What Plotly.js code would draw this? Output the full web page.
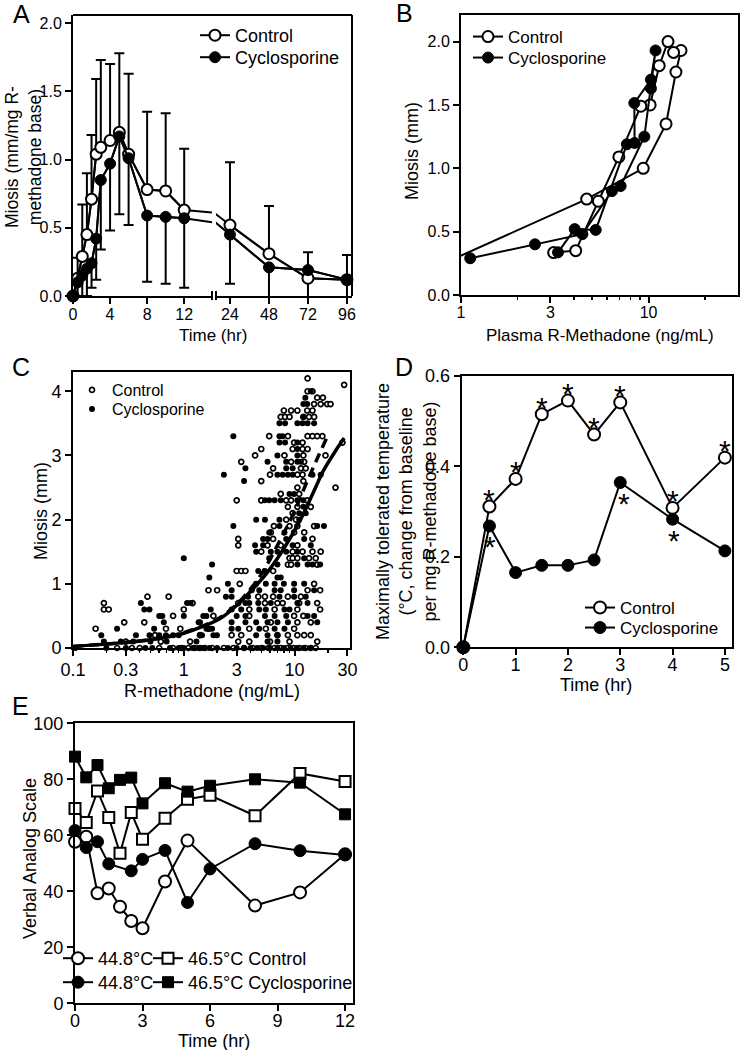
<!DOCTYPE html>
<html><head><meta charset="utf-8">
<script src="https://cdn.plot.ly/plotly-3.0.1.min.js"></script>
<style>html,body{margin:0;padding:0;background:#fff}#chart{width:741px;height:1050px}</style>
</head><body><div id="chart"></div>
<script>
// ---------- Panel A : miosis vs time ----------
const timeA = [0,0.5,1,1.5,2,2.5,3,4,5,6,8,10,12,24,48,72,96];
const ctrlA = [0,0.13,0.29,0.45,0.71,1.04,1.09,1.14,1.20,1.04,0.78,0.77,0.63,0.52,0.31,0.13,0.12];
const ctrlAErr = [0,0.15,0.38,0.45,0.47,0.55,0.64,0.56,0.58,0.59,0.57,0.57,0.45,0.46,0.35,0.19,0.18];
const cycA = [0,0.10,0.15,0.20,0.24,0.42,0.85,0.97,1.17,1.01,0.59,0.58,0.57,0.45,0.21,0.19,0.12];
const cycAErr = [0,0.10,0.15,0.20,0.18,0.30,0.51,0.49,0.57,0.49,0.485,0.49,0.51,0.36,0.30,0.25,0.20];
const ticksA1 = [0,4,8,12];
const ticksA2 = [24,48,72,96];

// ---------- Panel B : miosis vs plasma R-methadone (hysteresis) ----------
const ctrlBX = [0.9,4.68,9.37,12.4,14.0,14.9,13.6,12.7,11.4,10.2,9.1,6.95,5.4,4.09,3.12];
const ctrlBY = [0.28,0.757,1.0,1.35,1.76,1.93,1.915,2.0,1.81,1.5,1.49,1.09,0.74,0.35,0.335];
const cycBX = [1.12,2.48,4.44,6.38,7.1,9.5,10.3,10.9,10.3,8.4,8.43,7.67,5.23,4.04,3.29];
const cycBY = [0.29,0.40,0.48,0.82,0.86,1.25,1.63,1.93,1.70,1.515,1.2,1.19,0.514,0.52,0.337];

// ---------- Panel C : individual miosis vs R-methadone ----------
const ctrlC = [
[0.16,0.3],[0.19,0.7],[0.19,0.6],[0.21,0.6],[0.29,0.4],[0.44,0.4],[0.47,0.8],[0.73,0.8],[0.80,0.5],[0.93,0.3],[0.69,0.3],[1.0,0.6],[1.2,0.7],[1.14,0.1],[1.67,0.9],[0.55,0.2],
[0.34,0],[0.40,0],[0.60,0],[0.80,0],[0.95,0],[1.1,0],[1.25,0],[1.4,0],[1.55,0],[1.8,0],[0.25,0],[2.3,0],[2.8,0],[0.62,0.1],[0.30,0.1],
[3.5,0],[4.2,0],[5.0,0],[5.8,0],[6.6,0],[7.5,0],[8.6,0],[9.8,0],[11,0],[12.5,0],[14,0],[15.5,0],
[3.1,0.1],[3.9,0.1],[6,0.1],[9,0.1],[16,0.1],
[2.7,0.2],[3.3,0.2],[7.0,0.2],[8.7,0.2],[10.6,0.2],[12.2,0.2],[14.0,0.2],[1.4,0.2],
[1.67,0.3],[3.9,0.3],[9.9,0.3],[5.5,0.3],
[6.1,0.4],[10.6,0.4],[14,0.4],
[1.85,0.5],[3.9,0.5],[9.9,0.5],[12,0.5],
[3.9,0.6],[6.6,0.6],[10.6,0.6],[17,0.6],
[3.1,0.7],[5.4,0.7],[7.0,0.7],[7.8,0.7],[16,0.7],[11,0.7],
[4.7,0.8],[5.4,0.8],[6.4,0.8],[8.7,0.8],[11.4,0.8],
[13.1,0.9],[2.0,0.9],[17,0.9],
[3.2,1.0],[15,1.0],
[3.0,1.2],[3.3,1.2],[3.6,1.2],[6.4,1.2],
[8.7,1.3],[9.3,1.3],[16,1.3],
[9.0,1.4],[9.6,1.4],[10.6,1.4],[13.5,1.4],[15.5,1.4],
[5.0,1.5],[9.6,1.5],[11.8,1.5],[14.5,1.5],[17.2,1.5],
[3.1,1.6],[5.7,1.6],[7.5,1.6],[10.6,1.6],
[3.1,1.7],[6.4,1.7],[14.5,1.7],
[6.1,1.8],[9.9,1.8],[12.2,1.8],
[6.5,1.9],[9.0,1.9],[10.6,1.9],[15,1.9],
[8.4,2.0],[10.3,2.0],
[9.6,2.1],
[8.7,2.2],[10.6,2.2],[14,2.2],
[3.0,2.3],[5.0,2.3],[8.4,2.3],[9.3,2.3],[13,2.3],
[7.5,2.4],[11.0,2.4],
[10.6,2.5],[23.4,2.5],
[5.0,2.6],[12,2.6],
[10.6,2.7],[11.8,2.7],[6.0,2.7],
[6.4,2.8],[11.4,2.8],[12.6,2.8],
[3.3,2.9],[9.3,2.9],[12.2,2.9],
[4.4,3.0],[8.1,3.0],[12.0,3.0],[19,3.0],
[5.0,3.1],[9.6,3.1],[11.8,3.1],[13.1,3.1],
[9.9,3.2],[11.8,3.2],[27,3.2],
[5.9,3.3],[8.7,3.3],[13.1,3.3],[14.5,3.3],[16,3.3],[17.8,3.3],
[7.5,3.6],[8.2,3.6],[9.0,3.6],[12,3.6],[13.5,3.6],[15,3.6],
[8.0,3.7],[9.3,3.7],[10.6,3.7],[13,3.7],[14.5,3.7],
[15,3.8],[17.2,3.8],[19.7,3.8],[21.1,3.8],
[16,3.9],[18,3.9],
[13.1,4.0],[14.5,4.0],
[13.1,4.2],[28,4.1]
];
const cycC = [
[0.18,0.2],[0.19,0.1],[0.25,0.3],[0.27,0.1],[0.37,0.2],[0.41,0.7],[0.44,0.6],[0.49,0.6],[0.49,0.2],[0.54,0.3],[0.60,0.5],[0.64,0.5],[0.66,0.4],[0.60,0.2],[0.69,0.2],[1.0,0.5],[1.0,1.4],[1.07,0.7],[1.15,0.7],[1.46,0.2],[1.5,0.5],[1.6,0.5],[1.7,1.1],[1.75,0.6],[1.99,0.2],[1.6,0.3],
[0.105,0],[0.2,0],[0.3,0],[0.45,0],[0.52,0],[0.75,0],[0.9,0],[1.0,0],[1.2,0],[1.35,0],[1.5,0],[1.7,0],[2.0,0],[2.5,0],[0.35,0.1],[0.5,0.1],[0.7,0.1],[0.8,0.2],[0.9,0.2],[1.3,0.1],
[1.8,1.3],[2.3,2.7],[2.8,3.3],[2.8,1.9],[3.6,2.8],[3.5,2.6],[2.7,0.9],[2.4,0.8],[1.4,0.4],[1.7,0.3],[1.85,0.2],
[4.5,2.0],[5.4,2.0],[7.3,2.0],[11.0,2.0],
[7.3,1.9],[16,1.9],[18.4,1.9],
[5.9,1.8],[8.1,1.8],
[5.2,1.7],[5.7,1.7],[8.4,1.7],[12.2,1.7],
[4.4,1.6],[5.2,1.6],[9.6,1.6],[14,1.6],
[4.5,1.5],[6.1,1.5],[7.0,1.5],[8.4,1.5],[10.6,1.5],
[5.9,1.4],[12.2,1.4],
[7.0,1.3],[10.6,1.3],[13.1,1.3],[14.5,1.3],[17,1.3],
[4.7,1.2],[5.4,1.2],
[7.0,1.1],[7.5,1.1],[2.5,1.0],
[4.5,1.0],[5.5,1.0],[6.6,1.0],[8.0,1.0],[9.9,1.0],[12.2,1.0],
[4.1,0.9],[4.8,0.9],[6.6,0.9],[7.5,0.9],[9.9,0.9],[15,0.9],
[2.7,0.8],[3.8,0.8],[7.3,0.8],[9.9,0.8],[12.6,0.8],
[3.6,0.7],[3.9,0.7],[4.7,0.7],[6.1,0.7],[10.6,0.7],[13.1,0.7],
[2.7,0.6],[3.3,0.6],[4.8,0.6],[5.5,0.6],[8.1,0.6],[9.0,0.6],
[3.0,0.5],[3.6,0.5],[5.4,0.5],[6.6,0.5],[8.4,0.5],[13.1,0.5],[15,0.5],
[1.36,0.4],[2.7,0.4],[3.6,0.4],[4.5,0.4],[5.7,0.4],[7.0,0.4],[8.7,0.4],[16,0.4],
[1.8,0.3],[2.7,0.3],[3.1,0.3],[4.8,0.3],[6.6,0.3],[8.1,0.3],
[1.4,0.2],[4.5,0.2],[5.7,0.2],[7.0,0.2],
[5.7,0.1],[7.0,0.1],
[7.3,3.5],[8.2,3.5],[10.6,3.5],[11.8,3.5],[13.1,3.5],[15,3.5],
[7.3,3.3],[7.8,3.3],[12,3.6],
[7.3,3.2],[8.2,3.2],[10.6,3.2],
[10.6,3.1],
[7.0,3.0],[10.6,3.0],
[5.7,2.9],[8.4,2.9],[10.6,2.9],[11.4,2.9],
[8.4,2.8],[9.6,2.8],
[7.0,2.7],[7.8,2.7],[8.7,2.7],[9.6,2.7],[14.5,2.7],[17.2,2.7],
[9.0,2.4],[9.9,2.4],
[5.4,2.3],[5.9,2.3],[6.6,2.3],[7.5,2.3],[10.6,2.3],[12,2.3],
[12,2.2],
[11,2.1],[12.6,2.1],
[12,3.8],[13,3.8],[14,4.0],[12.5,3.9],
[3.0,0],[3.5,0],[4.0,0],[4.6,0],[5.2,0],[6.0,0],[7.0,0],[8.0,0],[9.2,0],[10.5,0],[12,0],[13.8,0]
];
const fitSolidX = [0.1,0.27,0.5,0.75,1.0,1.41,2.13,2.81,4,5.63,8,11.3,15,18.3,23,28];
const fitSolidY = [0.025,0.08,0.13,0.18,0.23,0.32,0.46,0.62,0.88,1.17,1.55,2.0,2.45,2.77,3.05,3.27];
const fitDashX = [0.1,0.27,0.5,1.0,2.0,3.0,4.0,5.1,7,9.8,13,16,19.7];
const fitDashY = [0.025,0.08,0.13,0.24,0.45,0.68,0.92,1.17,1.6,2.1,2.6,2.95,3.29];
const ticksC = [0.1,0.3,1,3,10,30];

// ---------- Panel D : maximally tolerated temperature ----------
const timeD = [0,0.5,1,1.5,2,2.5,3,4,5];
const ctrlD = [0,0.311,0.372,0.515,0.545,0.47,0.541,0.308,0.419];
const cycD = [0,0.268,0.165,0.181,0.181,0.193,0.364,0.283,0.213];
const starsCtrlD = [0.5,1,1.5,2,2.5,3,4,5];
const starsCycD = [0.5,3,4];

// ---------- Panel E : verbal analog scale ----------
const timeE = [0,0.5,1,1.5,2,2.5,3,4,5,6,8,10,12];
const ctrl448 = [57.7,59.5,39.3,41.0,34.5,29.4,26.8,43.5,58.1,null,34.9,39.6,53.2];
const ctrl465 = [69.6,64.6,75.8,66.4,53.6,68.1,58.6,66.1,72.9,74.3,67.0,82.1,79.2];
const cyc448 = [61.7,55.6,57.7,49.8,null,47.3,51.4,54.6,36.0,48.0,57.0,54.5,53.0];
const cyc465 = [88.1,80.7,85.1,76.8,79.8,80.6,71.4,78.6,75.6,77.7,80.0,78.8,67.5];

// ---------- helpers ----------
const F = 'Liberation Sans, Arial, sans-serif';
const W = 741, H = 1050;
const px = v => v / W, py = v => 1 - v / H;
const BL = 'black';
const openM = s => ({symbol:'circle', size:s, color:'white', line:{color:BL, width:2}});
const fillM = s => ({symbol:'circle', size:s, color:BL, line:{color:BL, width:1}});
const zeros = timeA.map(() => 0);
const pick = (xs, ys, f) => { const o = {x:[], y:[]}; xs.forEach((v,i) => { if (f(v)) { o.x.push(v); o.y.push(ys[i]); } }); return o; };

const traces = [];
// A bridging lines + error bars (clipped per axis segment)
[['x','y'],['x6','y']].forEach(([xa,ya]) => {
  traces.push({x:timeA, y:ctrlA, xaxis:xa, yaxis:ya, mode:'lines', line:{color:BL,width:2}, showlegend:false, hoverinfo:'skip',
    error_y:{type:'data', symmetric:false, array:ctrlAErr, arrayminus:zeros, color:BL, thickness:2, width:5}});
  traces.push({x:timeA, y:cycA, xaxis:xa, yaxis:ya, mode:'lines', line:{color:BL,width:2}, showlegend:false, hoverinfo:'skip',
    error_y:{type:'data', symmetric:false, array:zeros, arrayminus:cycAErr, color:BL, thickness:2, width:5}});
});
const c1 = pick(timeA, ctrlA, t => t <= 15), y1 = pick(timeA, cycA, t => t <= 15);
const c2 = pick(timeA, ctrlA, t => t >= 15.4), y2 = pick(timeA, cycA, t => t >= 15.4);
traces.push({x:c1.x, y:c1.y, xaxis:'x', yaxis:'y', mode:'lines+markers', name:'Control', legend:'legend', line:{color:BL,width:2}, marker:openM(11), cliponaxis:false});
traces.push({x:y1.x, y:y1.y, xaxis:'x', yaxis:'y', mode:'lines+markers', name:'Cyclosporine', legend:'legend2', line:{color:BL,width:2}, marker:fillM(11), cliponaxis:false});
traces.push({x:c2.x, y:c2.y, xaxis:'x6', yaxis:'y', mode:'lines+markers', name:'Control', showlegend:false, line:{color:BL,width:2}, marker:openM(11), cliponaxis:false});
traces.push({x:y2.x, y:y2.y, xaxis:'x6', yaxis:'y', mode:'lines+markers', name:'Cyclosporine', showlegend:false, line:{color:BL,width:2}, marker:fillM(11), cliponaxis:false});

// B
traces.push({x:ctrlBX, y:ctrlBY, xaxis:'x2', yaxis:'y2', mode:'lines+markers', name:'Control', legend:'legend3', line:{color:BL,width:2}, marker:openM(11)});
traces.push({x:cycBX, y:cycBY, xaxis:'x2', yaxis:'y2', mode:'lines+markers', name:'Cyclosporine', legend:'legend4', line:{color:BL,width:2}, marker:fillM(11)});

// C
traces.push({x:ctrlC.map(p=>p[0]), y:ctrlC.map(p=>p[1]), xaxis:'x3', yaxis:'y3', mode:'markers', name:'Control', legend:'legend5',
  marker:{symbol:'circle', size:5, color:'white', line:{color:BL,width:1.7}}, cliponaxis:false});
traces.push({x:cycC.map(p=>p[0]), y:cycC.map(p=>p[1]), xaxis:'x3', yaxis:'y3', mode:'markers', name:'Cyclosporine', legend:'legend6',
  marker:{symbol:'circle', size:6, color:BL}, cliponaxis:false});
traces.push({x:fitSolidX, y:fitSolidY, xaxis:'x3', yaxis:'y3', mode:'lines', line:{color:BL,width:3.5,shape:'spline'}, showlegend:false, hoverinfo:'skip'});
traces.push({x:fitDashX, y:fitDashY, xaxis:'x3', yaxis:'y3', mode:'lines', line:{color:BL,width:3.5,dash:'10px,6px',shape:'spline'}, showlegend:false, hoverinfo:'skip'});

// D
traces.push({x:timeD, y:ctrlD, xaxis:'x4', yaxis:'y4', mode:'lines+markers', name:'Control', legend:'legend7', line:{color:BL,width:2}, marker:openM(12), cliponaxis:false});
traces.push({x:timeD, y:cycD, xaxis:'x4', yaxis:'y4', mode:'lines+markers', name:'Cyclosporine', legend:'legend8', line:{color:BL,width:2}, marker:fillM(12), cliponaxis:false});

// E
const sqO = {symbol:'square', size:11, color:'white', line:{color:BL,width:2}};
const sqF = {symbol:'square', size:11, color:BL, line:{color:BL,width:1}};
traces.push({x:timeE, y:ctrl448, xaxis:'x5', yaxis:'y5', mode:'lines+markers', name:'44.8°C', legend:'legend9', connectgaps:true, line:{color:BL,width:2}, marker:openM(12), cliponaxis:false});
traces.push({x:timeE, y:ctrl465, xaxis:'x5', yaxis:'y5', mode:'lines+markers', name:'46.5°C Control', legend:'legend10', line:{color:BL,width:2}, marker:sqO, cliponaxis:false});
traces.push({x:timeE, y:cyc448, xaxis:'x5', yaxis:'y5', mode:'lines+markers', name:'44.8°C', legend:'legend11', connectgaps:true, line:{color:BL,width:2}, marker:fillM(12), cliponaxis:false});
traces.push({x:timeE, y:cyc465, xaxis:'x5', yaxis:'y5', mode:'lines+markers', name:'46.5°C Cyclosporine', legend:'legend12', line:{color:BL,width:2}, marker:sqF, cliponaxis:false});

// ---------- axes ----------
const ax = (o, fs, so) => Object.assign({showgrid:false, zeroline:false, showline:true, linecolor:BL, linewidth:2,
  ticks:'outside', ticklen:6, tickwidth:2, tickcolor:BL, ticklabelstandoff:so||0, tickfont:{family:F, size:fs, color:BL}, fixedrange:true}, o);
const minorLog = v => ({tickvals:v, ticks:'outside', ticklen:3, tickwidth:1.5, tickcolor:BL});

// one single-row legend per entry; (textStartX, rowCenterY, fontSize)
const leg = (tx, cy, fs) => ({x:px(tx - 40), y:py(cy - fs - 1), xanchor:'left', yanchor:'top', bgcolor:'rgba(0,0,0,0)',
  borderwidth:0, font:{family:F, size:fs, color:BL}, itemwidth:30});

const ann = [];
const txt = (t, x, y, fs, extra) => ann.push(Object.assign({text:t, x:px(x), y:py(y), xref:'paper', yref:'paper', showarrow:false,
  font:{family:F, size:fs, color:BL}, xanchor:'center', yanchor:'middle'}, extra||{}));
// panel letters
txt('A', 21, 14, 25); txt('B', 404, 13, 25); txt('C', 21, 367, 25); txt('D', 404, 367, 25); txt('E', 20, 706, 25);
// axis titles
txt('Time (hr)', 213, 335, 17);
txt('Miosis (mm/mg R-<br>methadone base)', 24, 157, 17.5, {textangle:-90});
txt('Plasma R-Methadone (ng/mL)', 600, 335, 17);
txt('Miosis (mm)', 412, 151, 18, {textangle:-90});
txt('R-methadone (ng/mL)', 212, 691, 18);
txt('Miosis (mm)', 41, 511, 18, {textangle:-90});
txt('Time (hr)', 596, 685, 18);
txt('Maximally tolerated temperature<br>(°C, change from baseline<br>per mg R-methadone base)', 406, 511, 18, {textangle:-90});
txt('Time (hr)', 214, 1041, 18);
txt('Verbal Analog Scale', 30, 859, 18, {textangle:-90});
// significance stars
starsCtrlD.forEach(t => { const i = timeD.indexOf(t);
  ann.push({text:'*', x:timeD[i], y:ctrlD[i], xref:'x4', yref:'y4', showarrow:false, yshift:7, font:{family:F, size:30, color:BL}}); });
starsCycD.forEach(t => { const i = timeD.indexOf(t);
  ann.push({text:'*', x:timeD[i], y:cycD[i], xref:'x4', yref:'y4', showarrow:false, yshift:-21, xshift:(t===3?4:1), font:{family:F, size:30, color:BL}}); });

const ln = (x0,y0,x1,y1) => ({type:'line', xref:'paper', yref:'paper', x0:px(x0), y0:py(y0), x1:px(x1), y1:py(y1), line:{color:BL, width:2}});
const shapes = [ln(73,15,352,15), ln(352,15,352,296), ln(212,291,212,300), ln(216,291,216,300)];

const layout = {
  width:W, height:H, margin:{l:0,r:0,t:0,b:0}, paper_bgcolor:'white', plot_bgcolor:'rgba(0,0,0,0)',
  font:{family:F, color:BL}, hovermode:false,
  xaxis: ax({domain:[px(73),px(212)], range:[0,15], tickvals:ticksA1, anchor:'y'}, 16, -3),
  xaxis6: ax({domain:[px(216),px(352)], range:[15.4,99.1], tickvals:ticksA2, anchor:'y'}, 16, -3),
  yaxis: ax({domain:[py(296),py(15)], range:[0,2.06], tickvals:[0,0.5,1,1.5,2], tickformat:'.1f', anchor:'x'}, 16),
  xaxis2: ax({type:'log', domain:[px(461),px(738)], range:[0,Math.log10(30)], tickvals:[1,3,10], ticktext:['1','3','10'],
    minor:minorLog([2,4,5,6,7,8,9,20]), mirror:true, anchor:'y2'}, 16, -4),
  yaxis2: ax({domain:[py(295),py(15)], range:[0,2.21], tickvals:[0,0.5,1,1.5,2], tickformat:'.1f', mirror:true, anchor:'x2'}, 16),
  xaxis3: ax({type:'log', domain:[px(73),px(350)], range:[-1,1.5], tickvals:ticksC, ticktext:ticksC.map(String),
    minor:minorLog([0.2,0.4,0.5,0.6,0.7,0.8,0.9,2,4,5,6,7,8,9,20]), mirror:true, anchor:'y3'}, 18, -2),
  yaxis3: ax({domain:[py(648),py(372)], range:[0,4.3], tickvals:[0,1,2,3,4], mirror:true, anchor:'x3'}, 18),
  xaxis4: ax({domain:[px(461.7),px(731.7)], range:[-0.03,5.13], tickvals:[0,1,2,3,4,5], mirror:true, anchor:'y4'}, 18, -6),
  yaxis4: ax({domain:[py(647.3),py(375.7)], range:[0,0.6], tickvals:[0,0.2,0.4,0.6], tickformat:'.1f', mirror:true, anchor:'x4'}, 18),
  xaxis5: ax({domain:[px(75),px(352.7)], range:[0,12.34], tickvals:[0,3,6,9,12], mirror:true, anchor:'y5'}, 18, -6),
  yaxis5: ax({domain:[py(1003.3),py(723.3)], range:[0,100], tickvals:[0,20,40,60,80,100], mirror:true, anchor:'x5'}, 18),
  legend: leg(235, 36, 18),  legend2: leg(235, 58, 18),
  legend3: leg(508, 37, 17), legend4: leg(508, 58, 17),
  legend5: leg(112, 390, 16), legend6: leg(112, 409, 16),
  legend7: leg(620, 608, 17), legend8: leg(620, 628, 17),
  legend9: leg(98, 959, 18),  legend10: leg(188, 959, 18),
  legend11: leg(98, 983, 18), legend12: leg(188, 983, 18),
  annotations: ann,
  shapes: shapes
};
Plotly.newPlot('chart', traces, layout, {displayModeBar:false, staticPlot:true});
</script>
</body></html>
